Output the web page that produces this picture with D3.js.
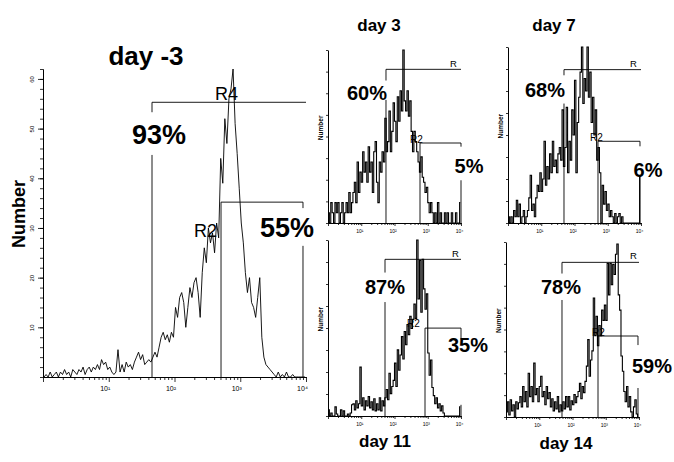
<!DOCTYPE html>
<html>
<head>
<meta charset="utf-8">
<script src="https://cdn.jsdelivr.net/npm/d3@7"></script>
<style>
  body { margin: 0; background: #fff; }
  svg { display: block; }
  text { font-family: "Liberation Sans", Arial, sans-serif; fill: #000; }
</style>
</head>
<body>
<svg id="chart" width="674" height="462"></svg>
<script>
// ---- data ----
// histogram counts per log channel (128 bins over 10^0..10^4 for day -3, 96 bins for the others)
const countsDayM3 = [
  0, 0.5, 0, 1, 0, 0.5, 1, 0, 1, 0.5, 1.5, 0.5, 1, 0, 1.5, 1,
  0.5, 1.5, 1, 2, 0.5, 1.5, 2, 1, 2, 1.5, 2.5, 1.5, 3.5, 2.5, 3, 1.5,
  2, 1, 0.5, 1, 5.5, 1, 2.5, 1, 3, 2, 2.5, 1.5, 3, 4, 5, 3.5,
  4.5, 2.5, 3, 3.5, 3, 4, 5, 4, 6, 8, 9, 7.5, 8.5, 7, 9, 8,
  14, 12, 16, 17, 15, 10, 14, 18, 16, 19, 20, 17, 12, 21, 26, 23,
  30, 27, 29, 25, 31, 28, 44, 39, 52, 47, 56, 58, 62, 51, 45, 38,
  31, 27, 21, 17, 20, 15, 14, 12, 16, 20, 8, 4, 2.5, 2, 1.5, 1,
  0.5, 0, 1, 0, 0.5, 0, 1, 0, 0, 0.5, 0, 0, 0, 0, 0, 0
];
const countsDay3 = [
  1, 0, 2, 1, 0, 2, 1, 2, 0, 1, 2, 0, 1, 2,
  1, 3, 1, 2, 3,
  4, 2, 6, 3, 5,
  4, 7, 5, 6, 4, 7.5, 5,
  6, 3, 7, 8, 4, 2, 6,
  5, 7, 6, 10.3, 7,
  8, 11, 7, 9, 11.8, 10, 8,
  12.4, 10, 13, 11, 17,
  12, 11, 13, 10.5, 12,
  9, 7, 9, 8, 7,
  6, 5, 6.5, 4.5,
  4, 3, 3.5,
  2, 1, 2, 1,
  0, 1, 0, 2, 0, 1, 0, 0, 1, 0, 1, 0, 0, 1, 0, 0, 1, 0, 0, 2
];
const countsDay7 = [
  1, 0, 1, 0, 2, 1, 3.6, 1, 3, 0, 1, 2, 0, 1,
  2, 4, 7.6, 2, 3, 1, 4,
  6, 5, 8, 5, 7, 13, 6,
  9, 7, 11, 8, 13, 9, 10, 8,
  11, 12, 10, 18,
  9, 12, 18.4, 8, 13, 10, 18,
  14, 22.7, 8, 16,
  20, 24, 28, 19, 23,
  21, 28, 20, 24,
  16, 20, 14, 18,
  10, 12, 8,
  0, 6, 3, 5,
  2, 3, 1, 2,
  1, 0, 1.5, 0, 1, 1.5, 0, 1, 0,
  0, 0, 0, 0, 0, 0, 0, 0, 0, 0, 0,
  7.3
];
const countsDay11 = [
  0.6, 0, 0.3, 0, 0, 0.9, 0.2, 0, 0, 0.6, 0, 0.5, 0, 0, 0.2, 0, 0.3, 1.1,
  1.2, 0.6, 1.5, 0.8, 1.2,
  4.8,
  1, 1.8, 0.6, 1.5, 1, 1.9, 0.8, 1.4, 0.6, 1.7, 0.5, 1.2,
  0.6, 1.8, 0.5, 1.5, 1,
  1.8, 2.6, 1.6, 4.2, 2.2, 2.9,
  3.5, 5.2, 2.9, 6.5, 4.5,
  6, 7.8, 5.6, 8.3, 7,
  9, 8, 9.8, 8.6, 9.5,
  11, 9.6, 17.3,
  11.5, 15.3, 10.2, 15.4,
  12.5, 10.5, 12,
  6.2, 4, 5.5, 2.8,
  2, 1.2, 1.8, 0.8,
  1.2, 0.5, 1, 0.3,
  0, 0, 0, 0, 0, 0, 0, 0, 0, 0, 0,
  0.9
];
const countsDay14 = [
  0.5, 1.5, 0.2, 1.7, 0.6, 1.2, 0, 1.5, 0.8, 1.4,
  2, 1, 3, 1.5, 2.5, 1, 4.3, 2, 3, 1.5, 5.3, 2.2, 2.8,
  1.5, 3, 4, 2, 2.5, 1.2, 3, 1.8, 2.4,
  1, 1.8, 0.6, 1.5, 0.8, 2, 0.5, 1.2, 0.6,
  1.5, 0.8, 2, 1, 2, 0.7, 1.6, 1.2, 2.2, 1.4, 2,
  2.5, 3.3, 1.8, 3, 2.4, 3.5,
  5, 7.6, 4, 5.6,
  6.5, 11.7, 8, 9.9, 7,
  9, 8, 10.5, 9.5,
  11, 9.5, 15.1,
  12, 15.1, 13,
  15, 14, 16, 17,
  12, 10.5,
  6, 4.5,
  2.5, 1.5, 3, 1, 2,
  0.5, 0, 1, 1.7, 0.3, 0
];

const dayLabels = ["day -3", "day 3", "day 7", "day 11", "day 14"];
const pctR  = ["93%", "60%", "68%", "87%", "78%"];
const pctR2 = ["55%", "5%", "6%", "35%", "59%"];
const gateNames = [["R4", "R2"], ["R", "R2"], ["R", "R2"], ["R", "R2"], ["R", "R2"]];
const decadeTicks = [1, 10, 100, 1000, 10000];
const decadeLabels = ["", "10\u00b9", "10\u00b2", "10\u00b3", "10\u2074"];

// gates in data units (fluorescence, count)
const gateRFrom  = [45.5, 55.5, 48.3, 51.8, 48.3];
const gateRTo    = [10000, 10000, 10000, 10000, 10000];
const gateRLevel = [55.3, 15.1, 24.4, 15.4, 15.2];
const gateRGap   = [[44.7, 53.3], [12.1, 14], [19, 23.5], [11.2, 14.1], [11.5, 14.1]];
const gateR2From  = [510, 585, 509, 827, 585];
const gateR2To    = [9000, 10000, 9330, 10000, 9330];
const gateR2Level = [35.2, 7.86, 13, 8.64, 7.96];
const gateR2Gap   = [[26.4, 34], [4.2, 7.5], [7.3, 12.2], [1.1, 7.5], [2.85, 7.07]];

const allCounts = [countsDayM3, countsDay3, countsDay7, countsDay11, countsDay14];

// ---- layout (pixels) ----
const layout = [
  {left: 43, right: 306, base: 377, top: 69, yMax: 62, big: true,
   day: [146, 65, 26], pR: [159, 144, 27], pR2: [287, 237, 27],
   rLab: [215, 100, 18], r2Lab: [194, 237, 18]},
  {left: 328, right: 461, base: 223, top: 50, yMax: 17,
   day: [379, 31, 17], pR: [367, 100, 20], pR2: [469, 173, 20],
   rLab: [450, 67, 9.5], r2Lab: [410, 143, 10]},
  {left: 508, right: 641, base: 223, top: 47, yMax: 28,
   day: [554, 31, 17], pR: [545, 97, 20], pR2: [648, 177, 20],
   rLab: [630, 67, 9.5], r2Lab: [590, 141, 10]},
  {left: 328, right: 461, base: 416, top: 240, yMax: 17.3,
   day: [385, 447, 17], pR: [385, 294, 20], pR2: [468, 352, 20],
   rLab: [452, 257, 9.5], r2Lab: [407, 327, 10]},
  {left: 506, right: 639, base: 417, top: 242, yMax: 17.2,
   day: [566, 449, 17], pR: [561, 294, 20], pR2: [652, 373, 20],
   rLab: [630, 259, 9.5], r2Lab: [592, 336, 10]}
];

const svg = d3.select("#chart");
svg.append("rect").attr("width", 674).attr("height", 462).attr("fill", "#fff");

const minorTicks = [];
for (let d = 1; d < 1e4; d *= 10) for (let k = 2; k < 10; k++) minorTicks.push(d * k);

function drawPanel(i) {
  const L = layout[i];
  const counts = allCounts[i];
  const n = counts.length;
  const x = d3.scaleLog().domain([1, 1e4]).range([L.left, L.right]);
  const y = d3.scaleLinear().domain([0, L.yMax]).range([L.base, L.top]);
  const g = svg.append("g");

  // x axis: minor + decade ticks
  g.append("g")
    .attr("transform", "translate(0," + L.base + ")")
    .call(d3.axisBottom(x).tickValues(minorTicks).tickSize(L.big ? 3 : 2)
      .tickSizeOuter(0).tickFormat(""));
  const xMaj = g.append("g")
    .attr("transform", "translate(0," + L.base + ")")
    .call(d3.axisBottom(x).tickValues(decadeTicks).tickSize(L.big ? 5 : 3)
      .tickSizeOuter(0).tickFormat((d, j) => decadeLabels[j]));
  xMaj.selectAll("text")
    .attr("font-size", L.big ? 7 : 5)
    .attr("dx", L.big ? -4 : -2)
    .attr("y", L.big ? 9 : 6);

  // y axis
  if (L.big) {
    g.append("g")
      .attr("transform", "translate(" + L.left + ",0)")
      .call(d3.axisLeft(y).tickValues(d3.range(0, 63, 2)).tickSize(3)
        .tickSizeOuter(0).tickFormat(""));
    const yMaj = g.append("g")
      .attr("transform", "translate(" + L.left + ",0)")
      .call(d3.axisLeft(y).tickValues(d3.range(10, 61, 10)).tickSize(5)
        .tickSizeOuter(0));
    yMaj.selectAll("text")
      .attr("font-size", 6)
      .attr("x", 0).attr("dy", 0)
      .attr("text-anchor", "middle")
      .attr("transform", "translate(-9.5,0) rotate(-90)");
    g.append("text")
      .attr("transform", "translate(25," + 214 + ") rotate(-90)")
      .attr("text-anchor", "middle")
      .attr("font-size", 18).attr("font-weight", "bold")
      .text("Number");
  } else {
    g.append("g")
      .attr("transform", "translate(" + L.left + ",0)")
      .call(d3.axisLeft(y).tickValues(d3.range(0, 9).map(k => k * L.yMax / 8))
        .tickSize(2).tickSizeOuter(0).tickFormat(""));
    g.append("text")
      .attr("transform", "translate(" + (L.left - 5) + "," +
        (L.base - 0.55 * (L.base - L.top)) + ") rotate(-90)")
      .attr("text-anchor", "middle")
      .attr("font-size", 6.5).attr("font-weight", "bold")
      .text("Number");
  }
  g.selectAll(".domain").attr("stroke", "#000").attr("stroke-width", 1);
  g.selectAll(".tick line").attr("stroke", "#000").attr("stroke-width", 0.8);

  // histogram
  const line = d3.line()
    .x((d, k) => x(Math.pow(10, (k + 0.5) * 4 / n)))
    .y(d => y(d))
    .curve(L.big ? d3.curveLinear : d3.curveStep);
  g.append("path")
    .datum(counts)
    .attr("d", line)
    .attr("fill", "none")
    .attr("stroke", "#000")
    .attr("stroke-width", L.big ? 0.9 : 1.1);

  // gates
  const gl = g.append("g").attr("stroke", "#000").attr("stroke-width", 0.9);
  function vseg(xv, lo, hi) {
    gl.append("line").attr("x1", x(xv)).attr("x2", x(xv))
      .attr("y1", y(lo)).attr("y2", y(hi));
  }
  // R gate: horizontal + left leg (with a gap for the label)
  gl.append("line")
    .attr("x1", x(gateRFrom[i])).attr("x2", x(gateRTo[i]))
    .attr("y1", y(gateRLevel[i])).attr("y2", y(gateRLevel[i]));
  vseg(gateRFrom[i], 0, gateRGap[i][0]);
  vseg(gateRFrom[i], gateRGap[i][1], gateRLevel[i]);
  // R2 gate: horizontal, full left leg, right leg with gap
  gl.append("line")
    .attr("x1", x(gateR2From[i])).attr("x2", x(gateR2To[i]))
    .attr("y1", y(gateR2Level[i])).attr("y2", y(gateR2Level[i]));
  vseg(gateR2From[i], 0, gateR2Level[i]);
  vseg(gateR2To[i], 0, gateR2Gap[i][0]);
  vseg(gateR2To[i], gateR2Gap[i][1], gateR2Level[i]);

  // texts
  function label(pos, txt, bold, anchor) {
    g.append("text")
      .attr("x", pos[0]).attr("y", pos[1])
      .attr("font-size", pos[2])
      .attr("font-weight", bold ? "bold" : "normal")
      .attr("text-anchor", anchor)
      .text(txt);
  }
  label(L.day, dayLabels[i], true, "middle");
  label(L.pR, pctR[i], true, "middle");
  label(L.pR2, pctR2[i], true, "middle");
  label(L.rLab, gateNames[i][0], false, "start");
  label(L.r2Lab, gateNames[i][1], false, "start");
}

layout.forEach((L, i) => drawPanel(i));
</script>
</body>
</html>
